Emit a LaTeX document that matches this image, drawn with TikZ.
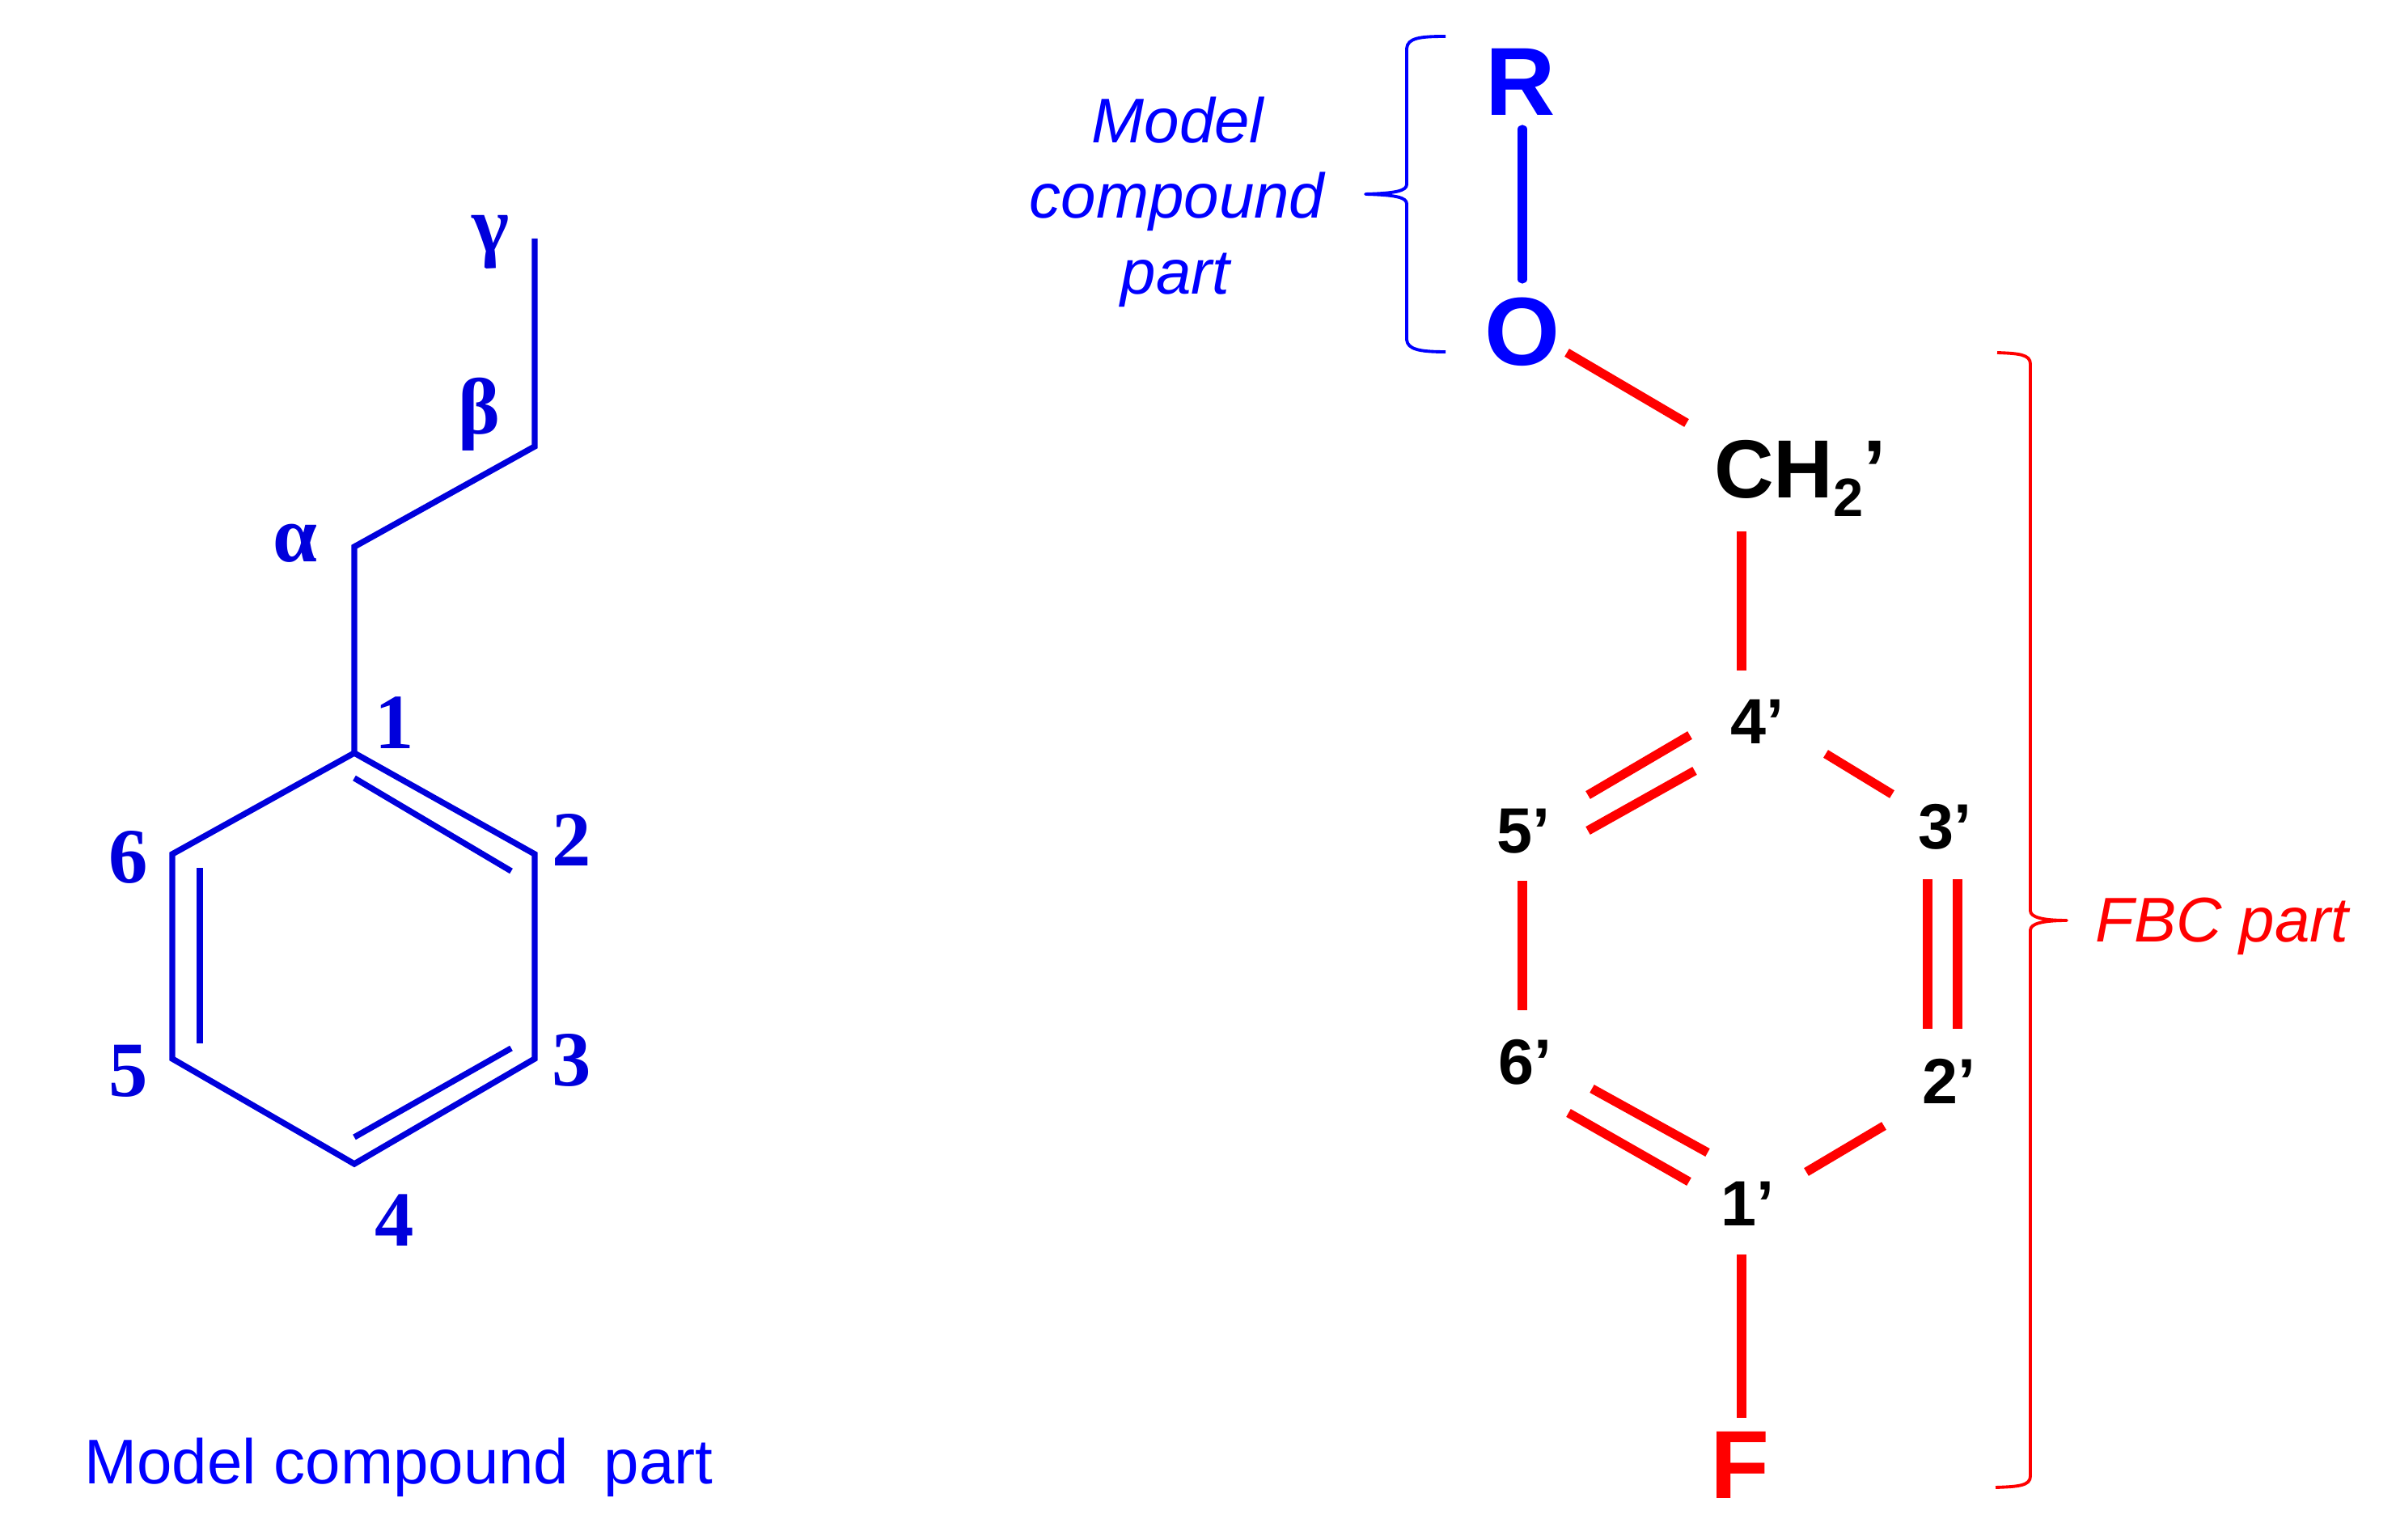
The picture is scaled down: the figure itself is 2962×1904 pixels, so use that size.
\documentclass[tikz,border=0pt]{standalone}
\usepackage{fontspec}
\setmainfont{Liberation Sans}
\newfontfamily\timesf{Liberation Serif}
\definecolor{molblue}{RGB}{0,0,220}
\definecolor{txtblue}{RGB}{0,0,255}
\definecolor{molred}{RGB}{255,0,0}
\tikzset{
  lbl/.style={inner sep=0pt,outer sep=0pt,anchor=base},
  ringnum/.style={lbl,text=molblue,font=\timesf\bfseries\fontsize{27.5}{30}\selectfont},
  greek/.style={lbl,text=molblue,font=\timesf\bfseries\fontsize{28}{30}\selectfont},
  captext/.style={lbl,font=\fontsize{22.2}{26}\selectfont},
  capit/.style={lbl,font=\itshape\fontsize{22.2}{26}\selectfont},
  atom/.style={lbl,font=\bfseries\fontsize{34}{36}\selectfont},
  prime/.style={lbl,text=black,font=\bfseries\fontsize{22.5}{24}\selectfont},
  bondleft/.style={draw=molblue,line width=2.1pt,line join=miter},
  bondblue/.style={draw=txtblue,line width=3.2pt},
  bondred/.style={draw=molred,line width=3.2pt},
  bracethin/.style={line width=1.1pt,line join=round}
}
\begin{document}
\begin{tikzpicture}[x=0.01cm,y=-0.01cm]
\useasboundingbox (0,0) rectangle (2962,1904);
% left molecule
\coordinate (g) at (661,295);
\coordinate (b) at (661,552);
\coordinate (a) at (438,676);
\coordinate (c1) at (438,931);
\coordinate (c2) at (661,1056);
\coordinate (c3) at (661,1309);
\coordinate (c4) at (438,1439);
\coordinate (c5) at (213,1309);
\coordinate (c6) at (213,1056);
\coordinate (i1a) at (438,962);
\coordinate (i1b) at (632,1077);
\coordinate (i2a) at (632,1296);
\coordinate (i2b) at (438,1406);
\coordinate (i3a) at (247,1290);
\coordinate (i3b) at (247,1073);
\draw[bondleft] (g) -- (b) -- (a) -- (c1);
\draw[bondleft] (c1) -- (c2) -- (c3) -- (c4) -- (c5) -- (c6) -- cycle;
\draw[bondleft] (i1a) -- (i1b);
\draw[bondleft] (i2a) -- (i2b);
\draw[bondleft] (i3a) -- (i3b);
\node[ringnum] (n1) at (488,926) {1};
\node[ringnum] (n2) at (707,1071) {2};
\node[ringnum] (n3) at (707,1343) {3};
\node[ringnum] (n4) at (488,1541) {4};
\node[ringnum] (n5) at (159,1356) {5};
\node[ringnum] (n6) at (159,1092) {6};
\node[greek] (na) at (365,695) {α};
\node[greek] (nb) at (592,537) {β};
\node[greek] (ng) at (607,312) {γ};
\node[captext,text=txtblue] (capl) at (493,1834) {Model compound\hspace{0.28em} part};
% right molecule
\node[capit,text=txtblue] (m1) at (1456,177) {Model};
\node[capit,text=txtblue] (m2) at (1455,270) {compound};
\node[capit,text=txtblue] (m3) at (1453,364) {part};
\node[atom,text=txtblue] (R) at (1880,143) {R};
\node[atom,text=txtblue] (O) at (1882,452) {O};
\node[atom,text=black,anchor=base west,font=\bfseries\fontsize{29}{30}\selectfont] (CH) at (2119,616) {CH\raisebox{-0.22em}{\fontsize{19}{20}\selectfont 2}’};
\node[prime] (p4) at (2172,920) {4’};
\node[prime] (p5) at (1883,1055) {5’};
\node[prime] (p3) at (2404,1050) {3’};
\node[prime] (p6) at (1885,1341) {6’};
\node[prime] (p2) at (2409,1365) {2’};
\node[prime] (p1) at (2160,1516) {1’};
\node[atom,text=molred] (F) at (2151,1852) {F};
\node[capit,text=molred] (fbc) at (2747,1165) {FBC part};
\coordinate (rb) at (1882,160);
\coordinate (ob) at (1882,345);
\draw[bondblue,line cap=round] (rb) -- (ob);
\coordinate (oc) at (1937,436);
\coordinate (co) at (2085,523);
\draw[bondred] (oc) -- (co);
\coordinate (cd) at (2153,657);
\coordinate (d4) at (2153,829);
\draw[bondred] (cd) -- (d4);
\coordinate (a1) at (1963,983); \coordinate (a2) at (2089,909);
\coordinate (a3) at (1963,1027); \coordinate (a4) at (2095,953);
\draw[bondred] (a1) -- (a2);
\draw[bondred] (a3) -- (a4);
\coordinate (e1) at (2257,932); \coordinate (e2) at (2339,982);
\draw[bondred] (e1) -- (e2);
\coordinate (f1) at (1882,1089); \coordinate (f2) at (1882,1249);
\draw[bondred] (f1) -- (f2);
\coordinate (h1) at (2383,1087); \coordinate (h2) at (2383,1272);
\coordinate (h3) at (2420,1087); \coordinate (h4) at (2420,1272);
\draw[bondred] (h1) -- (h2);
\draw[bondred] (h3) -- (h4);
\coordinate (j1) at (1968,1346); \coordinate (j2) at (2111,1425);
\coordinate (j3) at (1939,1376); \coordinate (j4) at (2088,1461);
\draw[bondred] (j1) -- (j2);
\draw[bondred] (j3) -- (j4);
\coordinate (k1) at (2329,1392); \coordinate (k2) at (2233,1449);
\draw[bondred] (k1) -- (k2);
\coordinate (l1) at (2153,1551); \coordinate (l2) at (2153,1753);
\draw[bondred] (l1) -- (l2);
% braces
\coordinate (bb1) at (1787,45); \coordinate (bb2) at (1688,240); \coordinate (bb3) at (1787,435);
\draw[bracethin,txtblue] (bb1) .. controls (1755,45) and (1740,47) .. (1739,60)
  -- (1739,228) .. controls (1739,236) and (1725,239) .. (bb2)
  .. controls (1725,241) and (1739,244) .. (1739,252)
  -- (1739,420) .. controls (1740,432) and (1755,435) .. (bb3);
\coordinate (rb1) at (2469,436); \coordinate (rb2) at (2555,1138); \coordinate (rb3) at (2467,1839);
\draw[bracethin,molred] (rb1) .. controls (2495,437) and (2510,438) .. (2510,450)
  -- (2510,1126) .. controls (2510,1134) and (2525,1138) .. (rb2)
  .. controls (2525,1138) and (2510,1142) .. (2510,1150)
  -- (2510,1825) .. controls (2510,1837) and (2495,1838) .. (rb3);
\end{tikzpicture}
\end{document}
